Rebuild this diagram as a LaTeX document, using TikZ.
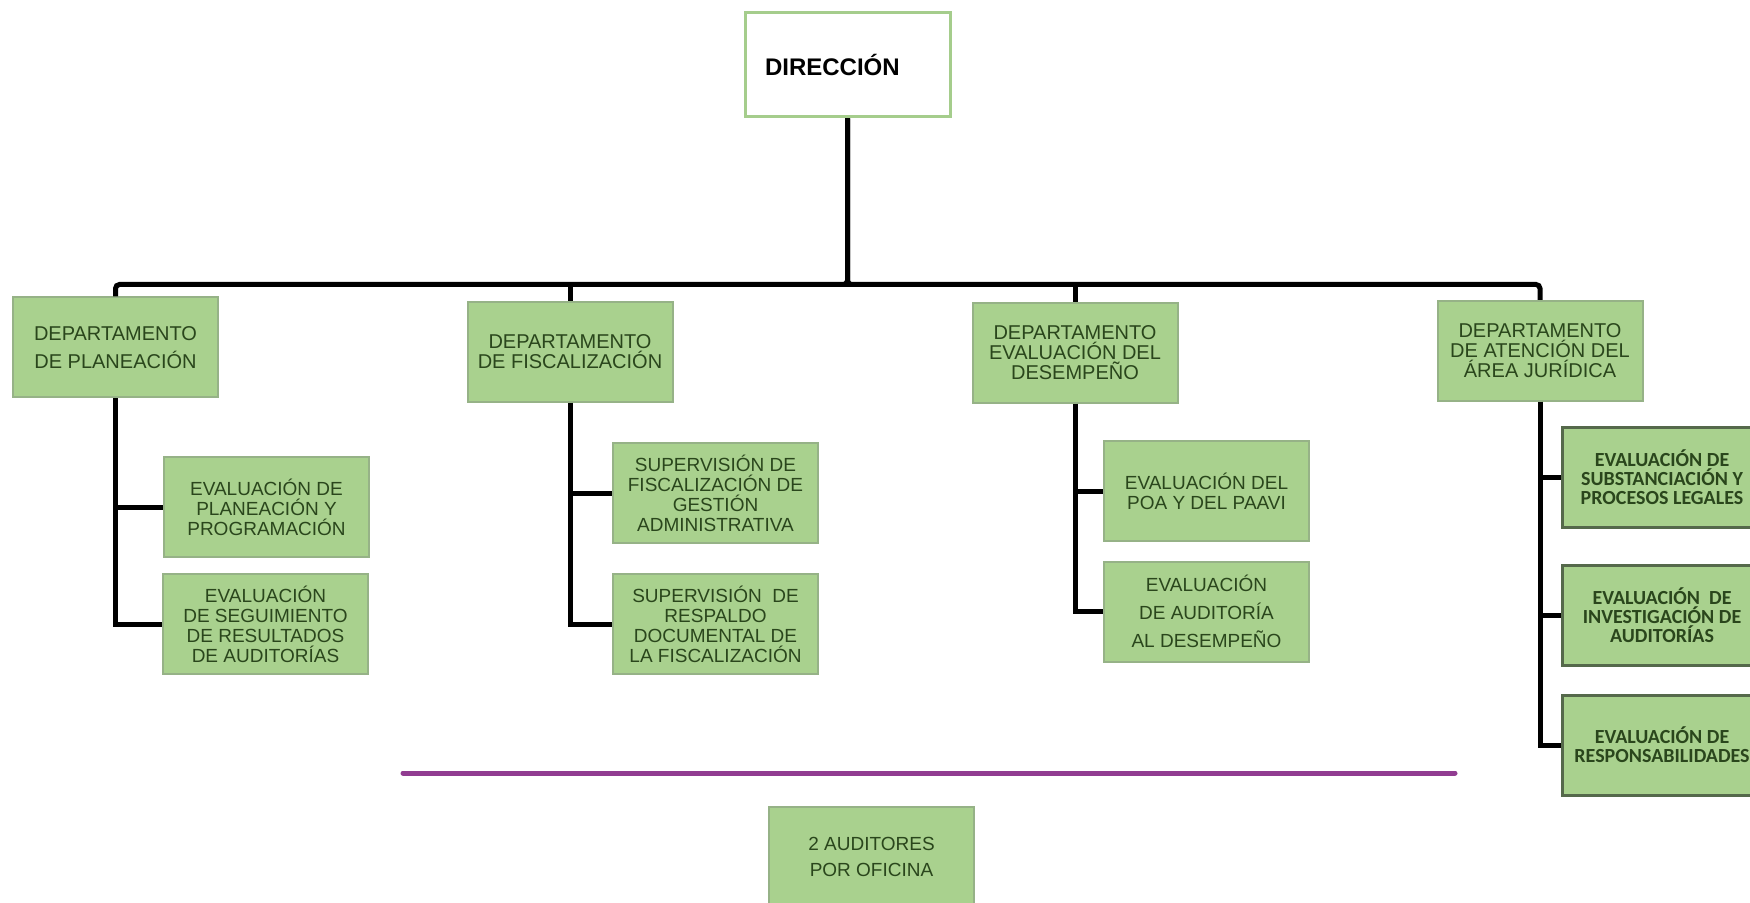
\documentclass[tikz,border=0pt]{standalone}
\usepackage{fontspec}
\setmainfont{Liberation Sans}
\newfontfamily\carlito{Carlito}
\usetikzlibrary{positioning}
\definecolor{boxgreen}{RGB}{169,209,142}
\definecolor{boxedge}{RGB}{150,178,135}
\definecolor{darkedge}{RGB}{85,105,75}
\definecolor{headedge}{RGB}{165,205,140}
\definecolor{txtgreen}{RGB}{42,70,28}
\definecolor{linepurple}{RGB}{145,60,145}

\begin{document}
\begin{tikzpicture}[x=0.5pt,y=-0.5pt]
                        \tikzset{Box/.style={%
                                shape=rectangle,%
                                draw=boxedge,%
                                fill=boxgreen,%
                                line width=1pt,%
                                text=txtgreen,%
                                align=center,%
                                inner sep=2pt,%
                                minimum width=102.5pt,%
                                minimum height=50pt,%
                                font=\fontsize{9.5}{10}\selectfont,%
                            },
                            Dept/.style={Box, font=\fontsize{10}{10}\selectfont},%
                            Legal/.style={Box, draw=darkedge, line width=1.5pt, minimum width=100pt,%
                                font=\carlito\bfseries\fontsize{10}{9.5}\selectfont},%
                            Head/.style={%
                                shape=rectangle,%
                                draw=headedge,%
                                fill=white,%
                                line width=1.5pt,%
                                align=left,%
                                text width=82.5pt,%
                                inner xsep=10pt,%
                                minimum height=52pt,%
                                font=\bfseries\fontsize{12}{12}\selectfont,%
                            },
                            Link/.style={draw=black, line width=2.5pt},%
                            Sep/.style={draw=linepurple, line width=2.5pt, line cap=round}}

                            \clip (0,0) rectangle (1750,903);

                            \node[Head] (dir) at (847.5,65) {DIRECCIÓN};

                            \node[Dept, font=\fontsize{10}{14}\selectfont] (plan) at (115.5,347.5) {DEPARTAMENTO\\DE PLANEACIÓN};
                            \node[Dept] (fisc) at (570,352) {DEPARTAMENTO\\DE FISCALIZACIÓN};
                            \node[Dept] (desem) at (1075,353) {DEPARTAMENTO\\EVALUACIÓN DEL\\DESEMPEÑO};
                            \node[Dept] (jur) at (1540,351) {DEPARTAMENTO\\DE ATENCIÓN DEL\\ÁREA JURÍDICA};

                            \node[Box] (planA) at (266.5,507) {EVALUACIÓN DE\\PLANEACIÓN Y\\PROGRAMACIÓN};
                            \node[Box] (planB) at (265.5,624) {EVALUACIÓN\\DE SEGUIMIENTO\\DE RESULTADOS\\DE AUDITORÍAS};
                            \node[Box] (fiscA) at (715.5,493) {SUPERVISIÓN DE\\FISCALIZACIÓN DE\\GESTIÓN\\ADMINISTRATIVA};
                            \node[Box] (fiscB) at (715.5,624) {SUPERVISIÓN\ \ DE\\RESPALDO\\DOCUMENTAL DE\\LA FISCALIZACIÓN};
                            \node[Box] (desemA) at (1206.5,491) {EVALUACIÓN DEL\\POA Y DEL PAAVI};
                            \node[Box, font=\fontsize{9.5}{14}\selectfont] (desemB) at (1206.5,611.5) {EVALUACIÓN\\DE AUDITORÍA\\AL DESEMPEÑO};
                            \node[Legal] (jurA) at (1662,477.5) {EVALUACIÓN DE\\SUBSTANCIACIÓN Y\\PROCESOS LEGALES};
                            \node[Legal] (jurB) at (1662,615) {EVALUACIÓN\ \ DE\\INVESTIGACIÓN DE\\AUDITORÍAS};
                            \node[Legal] (jurC) at (1662,745) {EVALUACIÓN DE\\RESPONSABILIDADES};

                            \node[Box, font=\fontsize{9.5}{13}\selectfont] (aud) at (871.5,857) {2 AUDITORES\\POR OFICINA};

                            % direccion a departamentos
                            \draw[Link, rounded corners=2pt] (dir.south) -- ++(0,166) -| (plan.north);
                            \draw[Link] (dir.south) -- ++(0,166) -| (fisc.north);
                            \draw[Link] (dir.south) -- ++(0,166) -| (desem.north);
                            \draw[Link, rounded corners=2pt] (dir.south) -- ++(0,166) -| (jur.north);

                            % departamentos a areas
                            \draw[Link] (plan.south) |- (planA.west);
                            \draw[Link] (plan.south) |- (planB.west);
                            \draw[Link] (fisc.south) |- (fiscA.west);
                            \draw[Link] (fisc.south) |- (fiscB.west);
                            \draw[Link] (desem.south) |- (desemA.west);
                            \draw[Link] (desem.south) |- (desemB.west);
                            \draw[Link] (jur.south) |- (jurA.west);
                            \draw[Link] (jur.south) |- (jurB.west);
                            \draw[Link] (jur.south) |- (jurC.west);

                            \coordinate (sepL) at (403,773);
                            \coordinate (sepR) at (1455,773);
                            \draw[Sep] (sepL) -- (sepR);
                    \end{tikzpicture}
\end{document}
